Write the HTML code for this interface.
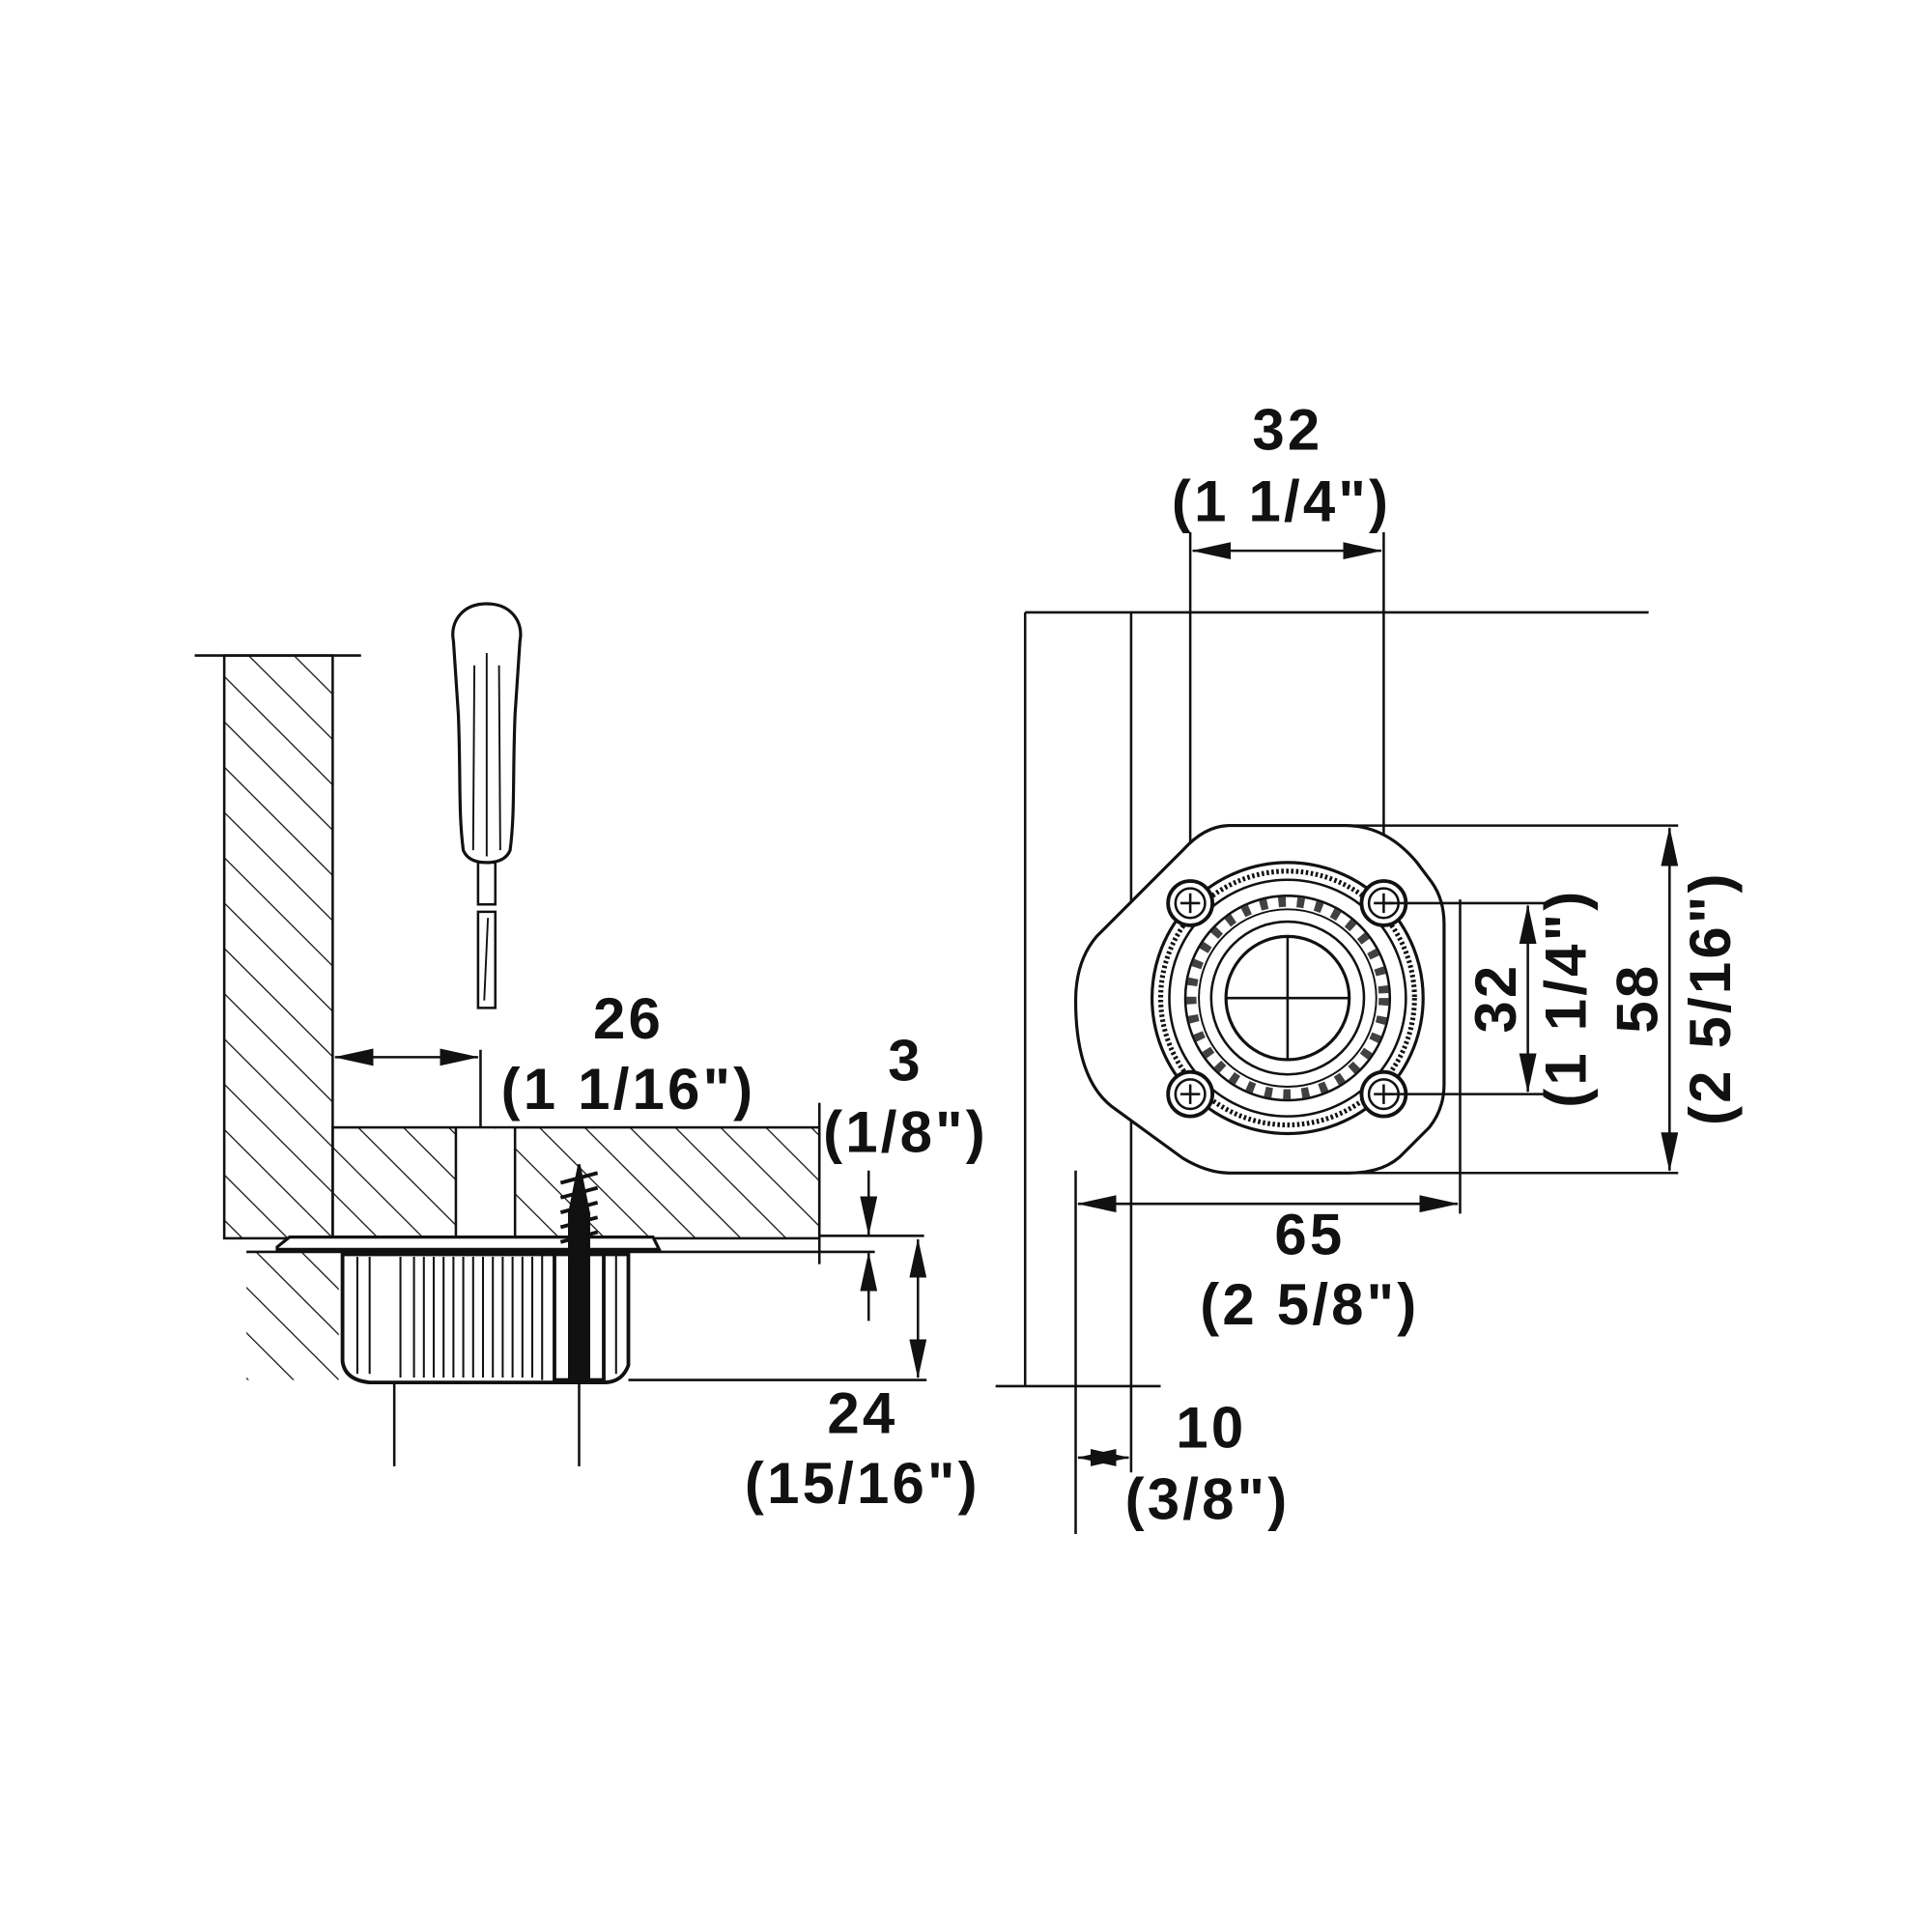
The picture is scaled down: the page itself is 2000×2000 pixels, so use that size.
<!DOCTYPE html>
<html><head><meta charset="utf-8"><style>
html,body{margin:0;padding:0;background:#fff}
svg{display:block}
text{font-family:"Liberation Sans",Arial,sans-serif;font-weight:bold;font-size:47px;letter-spacing:2.5px;fill:#111;text-anchor:middle}
</style></head><body>
<svg width="2000" height="2000" viewBox="0 0 1568 1568" xmlns="http://www.w3.org/2000/svg">
<defs>
<pattern id="h" width="26" height="26" patternUnits="userSpaceOnUse" patternTransform="rotate(-45)">
<line x1="0" y1="0" x2="0" y2="26" stroke="#111" stroke-width="2"/></pattern>
<marker id="a" markerWidth="32" markerHeight="14" refX="31" refY="7" orient="auto-start-reverse" markerUnits="userSpaceOnUse">
<path d="M0,0 L32,7 L0,14 Z" fill="#111"/></marker>
</defs>
<g stroke="#111" stroke-width="2" fill="none">
<rect x="182" y="532" width="88" height="473" fill="url(#h)"/>
<line x1="158" y1="532" x2="293" y2="532"/>
<rect x="270" y="915" width="395" height="90" fill="url(#h)"/>
<rect x="370" y="916" width="48" height="88" fill="#fff" stroke="none"/>
<line x1="370" y1="915" x2="370" y2="1005"/><line x1="418" y1="915" x2="418" y2="1005"/>
<rect x="200" y="1016" width="75" height="104" fill="url(#h)" stroke="none"/>
<line x1="200" y1="1016" x2="710" y2="1016"/>
<path d="M225 1012 L235 1004 L530 1004 L535 1014 L225 1014 Z" fill="#fff" stroke-width="2.5"/>
<path d="M278 1018 L510 1018 L510 1108 Q505 1122 490 1122 L300 1122 Q280 1120 278 1105 Z" fill="#fff" stroke-width="3"/>
<g stroke-width="1.6">
<line x1="290" y1="1020" x2="290" y2="1115"/><line x1="300" y1="1020" x2="300" y2="1115"/>
<line x1="325" y1="1020" x2="325" y2="1118"/><line x1="336" y1="1020" x2="336" y2="1118"/>
<line x1="344" y1="1020" x2="344" y2="1118"/><line x1="352" y1="1020" x2="352" y2="1118"/>
<line x1="360" y1="1020" x2="360" y2="1118"/><line x1="368" y1="1020" x2="368" y2="1118"/>
<line x1="376" y1="1020" x2="376" y2="1118"/><line x1="384" y1="1020" x2="384" y2="1118"/>
<line x1="392" y1="1020" x2="392" y2="1118"/><line x1="400" y1="1020" x2="400" y2="1118"/>
<line x1="408" y1="1020" x2="408" y2="1118"/><line x1="416" y1="1020" x2="416" y2="1118"/>
<line x1="424" y1="1020" x2="424" y2="1118"/><line x1="432" y1="1020" x2="432" y2="1118"/>
<line x1="440" y1="1018" x2="440" y2="1120"/><line x1="500" y1="1018" x2="500" y2="1115"/>
</g>
<rect x="450" y="1018" width="40" height="102" fill="#fff" stroke-width="3"/>
<rect x="462" y="985" width="16" height="135" fill="#111"/>
<path d="M470 945 L462 985 L478 985 Z" fill="#111"/>
<path d="M455 960 L485 952 M455 972 L485 964 M455 984 L485 976 M455 996 L485 988 M455 1008 L485 1000" stroke-width="3"/>
<line x1="320" y1="1122" x2="320" y2="1190"/><line x1="470" y1="1122" x2="470" y2="1190"/>
<path d="M395 490 C375 490 365 505 368 520 L372 580 C374 630 372 660 376 690 Q380 700 395 700 Q410 700 414 690 C418 660 416 630 418 580 L422 520 C425 505 415 490 395 490 Z" stroke-width="2.5"/>
<path d="M385 540 L384 690 M395 530 L395 695 M405 540 L406 690" stroke-width="1.5"/>
<rect x="388" y="700" width="14" height="34"/>
<path d="M388 740 L402 740 L402 818 L388 818 Z"/>
<line x1="396" y1="745" x2="393" y2="812" stroke-width="1.5"/>
<line x1="272" y1="858" x2="388" y2="858" marker-start="url(#a)" marker-end="url(#a)"/>
<line x1="390" y1="852" x2="390" y2="915"/>
<line x1="665" y1="895" x2="665" y2="1026"/>
<line x1="665" y1="1003" x2="750" y2="1003"/>
<line x1="705" y1="950" x2="705" y2="1002" marker-end="url(#a)"/>
<line x1="705" y1="1072" x2="705" y2="1017" marker-end="url(#a)"/>
<line x1="745" y1="1006" x2="745" y2="1118" marker-start="url(#a)" marker-end="url(#a)"/>
<line x1="510" y1="1120" x2="752" y2="1120"/>
<line x1="832" y1="497" x2="1338" y2="497"/>
<line x1="832" y1="497" x2="832" y2="1125"/>
<line x1="918" y1="497" x2="918" y2="1125"/>
<line x1="808" y1="1125" x2="942" y2="1125"/>
<line x1="873" y1="950" x2="873" y2="1245"/>
<line x1="918" y1="1125" x2="918" y2="1195"/>
<line x1="875" y1="1183" x2="916" y2="1183" marker-start="url(#a)" marker-end="url(#a)"/>
<line x1="966" y1="432" x2="966" y2="733"/><line x1="1123" y1="432" x2="1123" y2="733"/>
<line x1="968" y1="447" x2="1121" y2="447" marker-start="url(#a)" marker-end="url(#a)"/>
<path d="M998 670 L1092 670 Q1125 670 1150 700 L1162 716 Q1172 730 1172 750 L1172 880 Q1172 900 1160 915 L1140 935 Q1125 952 1095 952 L998 952 Q980 952 960 940 L905 900 Q873 878 873 812 Q873 780 890 760 L960 690 Q978 670 998 670 Z" stroke-width="2.5" fill="#fff"/>
<circle cx="1045" cy="810" r="110" stroke-width="2.5"/>
<circle cx="1045" cy="810" r="103" stroke-width="4" stroke-dasharray="2 2"/>
<circle cx="1045" cy="810" r="96" stroke-width="2"/>
<circle cx="1045" cy="810" r="83" stroke-width="2"/>
<circle cx="1045" cy="810" r="72" stroke-width="1.5"/>
<circle cx="1045" cy="810" r="62" stroke-width="2"/>
<circle cx="1045" cy="810" r="78" stroke-width="8" stroke-dasharray="6 9" stroke-opacity="0.8"/>
<circle cx="1045" cy="810" r="50" stroke-width="2.5" fill="#fff"/>
<line x1="995" y1="810" x2="1095" y2="810"/><line x1="1045" y1="760" x2="1045" y2="860"/>
<g fill="#fff" stroke-width="3">
<circle cx="966" cy="733" r="18"/><circle cx="1123" cy="733" r="18"/>
<circle cx="966" cy="888" r="18"/><circle cx="1123" cy="888" r="18"/>
</g>
<g stroke-width="2">
<circle cx="966" cy="733" r="12"/><circle cx="1123" cy="733" r="12"/>
<circle cx="966" cy="888" r="12"/><circle cx="1123" cy="888" r="12"/>
<path d="M958 733h16M966 725v16M1115 733h16M1123 725v16M958 888h16M966 880v16M1115 888h16M1123 880v16"/>
</g>
<line x1="1123" y1="733" x2="1255" y2="733"/><line x1="1123" y1="888" x2="1255" y2="888"/>
<line x1="1240" y1="735" x2="1240" y2="886" marker-start="url(#a)" marker-end="url(#a)"/>
<line x1="1095" y1="670" x2="1362" y2="670"/><line x1="1095" y1="952" x2="1362" y2="952"/>
<line x1="1355" y1="672" x2="1355" y2="950" marker-start="url(#a)" marker-end="url(#a)"/>
<line x1="1185" y1="730" x2="1185" y2="985"/>
<line x1="875" y1="977" x2="1183" y2="977" marker-start="url(#a)" marker-end="url(#a)"/>
</g>
<text x="510" y="843">26</text>
<text x="510" y="900">(1 1/16")</text>
<text x="735" y="877">3</text>
<text x="735" y="935">(1/8")</text>
<text x="700" y="1163">24</text>
<text x="700" y="1220">(15/16")</text>
<text x="1045" y="365">32</text>
<text x="1040" y="423">(1 1/4")</text>
<text x="1063" y="1018">65</text>
<text x="1063" y="1075">(2 5/8")</text>
<text x="983" y="1175">10</text>
<text x="980" y="1233">(3/8")</text>
<text transform="translate(1230,810) rotate(-90)">32</text>
<text transform="translate(1287,810) rotate(-90)">(1 1/4")</text>
<text transform="translate(1345,810) rotate(-90)">58</text>
<text transform="translate(1404,810) rotate(-90)">(2 5/16")</text>
</svg>
</body></html>
